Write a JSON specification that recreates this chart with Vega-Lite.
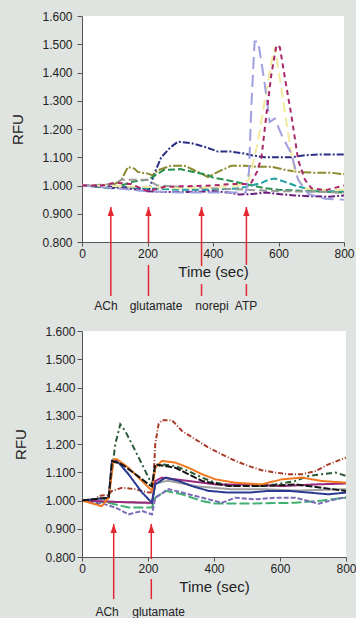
{
  "$schema": "https://vega.github.io/schema/vega-lite/v6.json",
  "background": "#e0e4e0",
  "padding": {"top": 10, "left": 10, "right": 0, "bottom": 0},
  "spacing": 12,
  "config": {
    "view": {"fill": "white", "stroke": null},
    "font": "Liberation Sans",
    "axis": {"grid": false, "labelOverlap": false, "domainColor": "#555555", "tickColor": "#555555", "labelColor": "#222222", "titleColor": "#222222", "labelFont": "Liberation Sans", "titleFont": "Liberation Sans", "labelFontSize": 12, "titleFontSize": 15, "titleFontWeight": "normal"}
  },
  "datasets": {
    "top": [
      {"s":"navy","t":0,"v":1.0},{"s":"navy","t":60,"v":0.995},{"s":"navy","t":90,"v":0.99},{"s":"navy","t":130,"v":0.995},{"s":"navy","t":180,"v":0.99},{"s":"navy","t":205,"v":0.985},{"s":"navy","t":220,"v":1.04},{"s":"navy","t":242,"v":1.10},{"s":"navy","t":270,"v":1.135},{"s":"navy","t":293,"v":1.155},{"s":"navy","t":334,"v":1.15},{"s":"navy","t":374,"v":1.137},{"s":"navy","t":415,"v":1.12},{"s":"navy","t":456,"v":1.12},{"s":"navy","t":497,"v":1.113},{"s":"navy","t":517,"v":1.107},{"s":"navy","t":558,"v":1.10},{"s":"navy","t":599,"v":1.10},{"s":"navy","t":640,"v":1.10},{"s":"navy","t":681,"v":1.107},{"s":"navy","t":721,"v":1.11},{"s":"navy","t":762,"v":1.11},{"s":"navy","t":800,"v":1.11},
      {"s":"olive","t":0,"v":1.0},{"s":"olive","t":80,"v":1.0},{"s":"olive","t":100,"v":1.005},{"s":"olive","t":120,"v":1.02},{"s":"olive","t":140,"v":1.065},{"s":"olive","t":160,"v":1.06},{"s":"olive","t":170,"v":1.048},{"s":"olive","t":201,"v":1.042},{"s":"olive","t":216,"v":1.036},{"s":"olive","t":232,"v":1.054},{"s":"olive","t":272,"v":1.07},{"s":"olive","t":313,"v":1.07},{"s":"olive","t":354,"v":1.048},{"s":"olive","t":385,"v":1.03},{"s":"olive","t":415,"v":1.048},{"s":"olive","t":456,"v":1.07},{"s":"olive","t":497,"v":1.07},{"s":"olive","t":538,"v":1.066},{"s":"olive","t":579,"v":1.066},{"s":"olive","t":619,"v":1.056},{"s":"olive","t":660,"v":1.048},{"s":"olive","t":711,"v":1.045},{"s":"olive","t":762,"v":1.045},{"s":"olive","t":800,"v":1.04},
      {"s":"green","t":0,"v":1.0},{"s":"green","t":60,"v":0.995},{"s":"green","t":80,"v":0.99},{"s":"green","t":120,"v":1.0},{"s":"green","t":160,"v":1.015},{"s":"green","t":200,"v":1.02},{"s":"green","t":215,"v":1.03},{"s":"green","t":250,"v":1.055},{"s":"green","t":300,"v":1.058},{"s":"green","t":350,"v":1.045},{"s":"green","t":380,"v":1.04},{"s":"green","t":400,"v":1.028},{"s":"green","t":440,"v":1.02},{"s":"green","t":480,"v":1.01},{"s":"green","t":520,"v":1.0},{"s":"green","t":560,"v":0.99},{"s":"green","t":600,"v":0.985},{"s":"green","t":700,"v":0.98},{"s":"green","t":800,"v":0.975},
      {"s":"teal","t":0,"v":1.0},{"s":"teal","t":100,"v":0.995},{"s":"teal","t":200,"v":0.99},{"s":"teal","t":300,"v":0.985},{"s":"teal","t":400,"v":0.985},{"s":"teal","t":480,"v":0.99},{"s":"teal","t":517,"v":1.0},{"s":"teal","t":550,"v":1.01},{"s":"teal","t":568,"v":1.02},{"s":"teal","t":589,"v":1.025},{"s":"teal","t":619,"v":1.013},{"s":"teal","t":650,"v":1.0},{"s":"teal","t":681,"v":0.99},{"s":"teal","t":721,"v":0.98},{"s":"teal","t":800,"v":0.98},
      {"s":"grey","t":0,"v":1.0},{"s":"grey","t":100,"v":1.005},{"s":"grey","t":120,"v":1.02},{"s":"grey","t":200,"v":1.02},{"s":"grey","t":230,"v":1.0},{"s":"grey","t":300,"v":0.995},{"s":"grey","t":400,"v":0.99},{"s":"grey","t":500,"v":0.985},{"s":"grey","t":600,"v":0.98},{"s":"grey","t":700,"v":0.978},{"s":"grey","t":800,"v":0.975},
      {"s":"purple","t":0,"v":1.0},{"s":"purple","t":100,"v":0.995},{"s":"purple","t":200,"v":0.98},{"s":"purple","t":250,"v":0.977},{"s":"purple","t":300,"v":0.977},{"s":"purple","t":350,"v":0.978},{"s":"purple","t":400,"v":0.98},{"s":"purple","t":450,"v":0.975},{"s":"purple","t":480,"v":0.968},{"s":"purple","t":520,"v":0.97},{"s":"purple","t":560,"v":0.975},{"s":"purple","t":600,"v":0.97},{"s":"purple","t":650,"v":0.965},{"s":"purple","t":700,"v":0.962},{"s":"purple","t":750,"v":0.96},{"s":"purple","t":800,"v":0.965},
      {"s":"yellow","t":0,"v":1.0},{"s":"yellow","t":100,"v":0.998},{"s":"yellow","t":200,"v":0.995},{"s":"yellow","t":300,"v":0.99},{"s":"yellow","t":400,"v":0.995},{"s":"yellow","t":480,"v":1.0},{"s":"yellow","t":510,"v":1.02},{"s":"yellow","t":538,"v":1.16},{"s":"yellow","t":558,"v":1.3},{"s":"yellow","t":579,"v":1.44},{"s":"yellow","t":589,"v":1.49},{"s":"yellow","t":609,"v":1.34},{"s":"yellow","t":630,"v":1.18},{"s":"yellow","t":650,"v":1.04},{"s":"yellow","t":681,"v":0.99},{"s":"yellow","t":721,"v":0.985},{"s":"yellow","t":800,"v":0.985},
      {"s":"lavender","t":0,"v":1.0},{"s":"lavender","t":100,"v":0.99},{"s":"lavender","t":200,"v":0.98},{"s":"lavender","t":300,"v":0.975},{"s":"lavender","t":400,"v":0.975},{"s":"lavender","t":500,"v":0.975},{"s":"lavender","t":510,"v":1.05},{"s":"lavender","t":517,"v":1.28},{"s":"lavender","t":527,"v":1.51},{"s":"lavender","t":538,"v":1.51},{"s":"lavender","t":558,"v":1.36},{"s":"lavender","t":573,"v":1.225},{"s":"lavender","t":589,"v":1.237},{"s":"lavender","t":609,"v":1.18},{"s":"lavender","t":640,"v":1.11},{"s":"lavender","t":660,"v":1.02},{"s":"lavender","t":691,"v":0.97},{"s":"lavender","t":742,"v":0.953},{"s":"lavender","t":800,"v":0.95},
      {"s":"maroon","t":0,"v":1.0},{"s":"maroon","t":60,"v":1.0},{"s":"maroon","t":100,"v":1.01},{"s":"maroon","t":150,"v":1.005},{"s":"maroon","t":200,"v":0.98},{"s":"maroon","t":250,"v":0.995},{"s":"maroon","t":300,"v":0.997},{"s":"maroon","t":400,"v":1.0},{"s":"maroon","t":450,"v":1.005},{"s":"maroon","t":500,"v":1.005},{"s":"maroon","t":517,"v":1.01},{"s":"maroon","t":535,"v":1.05},{"s":"maroon","t":548,"v":1.1},{"s":"maroon","t":563,"v":1.25},{"s":"maroon","t":579,"v":1.4},{"s":"maroon","t":594,"v":1.497},{"s":"maroon","t":604,"v":1.49},{"s":"maroon","t":619,"v":1.385},{"s":"maroon","t":640,"v":1.243},{"s":"maroon","t":660,"v":1.09},{"s":"maroon","t":681,"v":1.02},{"s":"maroon","t":701,"v":0.99},{"s":"maroon","t":742,"v":0.983},{"s":"maroon","t":800,"v":1.0}
    ],
    "bottom": [
      {"s":"brown","t":0,"v":0.998},{"s":"brown","t":40,"v":1.0},{"s":"brown","t":50,"v":1.016},{"s":"brown","t":80,"v":1.02},{"s":"brown","t":91,"v":1.034},{"s":"brown","t":121,"v":1.045},{"s":"brown","t":162,"v":1.04},{"s":"brown","t":202,"v":1.028},{"s":"brown","t":215,"v":1.03},{"s":"brown","t":222,"v":1.2},{"s":"brown","t":232,"v":1.27},{"s":"brown","t":242,"v":1.284},{"s":"brown","t":273,"v":1.284},{"s":"brown","t":303,"v":1.246},{"s":"brown","t":343,"v":1.217},{"s":"brown","t":384,"v":1.187},{"s":"brown","t":424,"v":1.163},{"s":"brown","t":465,"v":1.14},{"s":"brown","t":505,"v":1.122},{"s":"brown","t":545,"v":1.107},{"s":"brown","t":586,"v":1.099},{"s":"brown","t":626,"v":1.093},{"s":"brown","t":667,"v":1.093},{"s":"brown","t":707,"v":1.104},{"s":"brown","t":747,"v":1.128},{"s":"brown","t":800,"v":1.152},
      {"s":"dkgreen","t":0,"v":1.0},{"s":"dkgreen","t":50,"v":0.99},{"s":"dkgreen","t":81,"v":1.016},{"s":"dkgreen","t":101,"v":1.2},{"s":"dkgreen","t":116,"v":1.27},{"s":"dkgreen","t":131,"v":1.246},{"s":"dkgreen","t":162,"v":1.175},{"s":"dkgreen","t":192,"v":1.104},{"s":"dkgreen","t":212,"v":1.057},{"s":"dkgreen","t":222,"v":1.116},{"s":"dkgreen","t":242,"v":1.128},{"s":"dkgreen","t":283,"v":1.122},{"s":"dkgreen","t":323,"v":1.104},{"s":"dkgreen","t":364,"v":1.081},{"s":"dkgreen","t":404,"v":1.063},{"s":"dkgreen","t":465,"v":1.051},{"s":"dkgreen","t":525,"v":1.051},{"s":"dkgreen","t":586,"v":1.057},{"s":"dkgreen","t":646,"v":1.069},{"s":"dkgreen","t":687,"v":1.087},{"s":"dkgreen","t":727,"v":1.093},{"s":"dkgreen","t":768,"v":1.099},{"s":"dkgreen","t":800,"v":1.087},
      {"s":"grey","t":0,"v":1.0},{"s":"grey","t":100,"v":0.995},{"s":"grey","t":212,"v":0.99},{"s":"grey","t":222,"v":1.06},{"s":"grey","t":260,"v":1.07},{"s":"grey","t":350,"v":1.05},{"s":"grey","t":450,"v":1.04},{"s":"grey","t":550,"v":1.04},{"s":"grey","t":650,"v":1.035},{"s":"grey","t":800,"v":1.04},
      {"s":"green","t":0,"v":1.0},{"s":"green","t":81,"v":0.992},{"s":"green","t":141,"v":0.975},{"s":"green","t":212,"v":0.975},{"s":"green","t":222,"v":1.01},{"s":"green","t":253,"v":1.034},{"s":"green","t":303,"v":1.022},{"s":"green","t":364,"v":0.998},{"s":"green","t":404,"v":0.989},{"s":"green","t":505,"v":0.989},{"s":"green","t":646,"v":0.992},{"s":"green","t":727,"v":1.0},{"s":"green","t":800,"v":1.01},
      {"s":"lavender","t":0,"v":1.0},{"s":"lavender","t":60,"v":0.99},{"s":"lavender","t":101,"v":0.975},{"s":"lavender","t":141,"v":0.951},{"s":"lavender","t":182,"v":0.963},{"s":"lavender","t":212,"v":0.951},{"s":"lavender","t":222,"v":1.01},{"s":"lavender","t":263,"v":1.04},{"s":"lavender","t":323,"v":1.022},{"s":"lavender","t":384,"v":1.004},{"s":"lavender","t":424,"v":0.992},{"s":"lavender","t":465,"v":1.01},{"s":"lavender","t":525,"v":1.004},{"s":"lavender","t":586,"v":1.01},{"s":"lavender","t":646,"v":1.01},{"s":"lavender","t":717,"v":0.989},{"s":"lavender","t":768,"v":1.004},{"s":"lavender","t":800,"v":1.012},
      {"s":"magenta","t":0,"v":1.0},{"s":"magenta","t":100,"v":0.995},{"s":"magenta","t":212,"v":0.992},{"s":"magenta","t":222,"v":1.069},{"s":"magenta","t":242,"v":1.081},{"s":"magenta","t":323,"v":1.069},{"s":"magenta","t":404,"v":1.057},{"s":"magenta","t":505,"v":1.057},{"s":"magenta","t":606,"v":1.051},{"s":"magenta","t":707,"v":1.057},{"s":"magenta","t":800,"v":1.06},
      {"s":"navy","t":0,"v":1.0},{"s":"navy","t":81,"v":1.01},{"s":"navy","t":91,"v":1.14},{"s":"navy","t":106,"v":1.14},{"s":"navy","t":141,"v":1.093},{"s":"navy","t":182,"v":1.028},{"s":"navy","t":212,"v":0.992},{"s":"navy","t":222,"v":1.057},{"s":"navy","t":253,"v":1.081},{"s":"navy","t":293,"v":1.069},{"s":"navy","t":333,"v":1.051},{"s":"navy","t":384,"v":1.034},{"s":"navy","t":444,"v":1.028},{"s":"navy","t":505,"v":1.028},{"s":"navy","t":566,"v":1.034},{"s":"navy","t":626,"v":1.034},{"s":"navy","t":687,"v":1.028},{"s":"navy","t":747,"v":1.022},{"s":"navy","t":800,"v":1.028},
      {"s":"orange","t":0,"v":1.0},{"s":"orange","t":60,"v":0.98},{"s":"orange","t":81,"v":1.01},{"s":"orange","t":96,"v":1.146},{"s":"orange","t":106,"v":1.146},{"s":"orange","t":141,"v":1.116},{"s":"orange","t":182,"v":1.069},{"s":"orange","t":212,"v":1.034},{"s":"orange","t":222,"v":1.116},{"s":"orange","t":242,"v":1.14},{"s":"orange","t":283,"v":1.134},{"s":"orange","t":323,"v":1.116},{"s":"orange","t":364,"v":1.093},{"s":"orange","t":404,"v":1.075},{"s":"orange","t":465,"v":1.063},{"s":"orange","t":545,"v":1.057},{"s":"orange","t":606,"v":1.075},{"s":"orange","t":667,"v":1.081},{"s":"orange","t":727,"v":1.069},{"s":"orange","t":800,"v":1.063},
      {"s":"black","t":0,"v":1.0},{"s":"black","t":81,"v":1.01},{"s":"black","t":91,"v":1.14},{"s":"black","t":121,"v":1.128},{"s":"black","t":162,"v":1.093},{"s":"black","t":202,"v":1.057},{"s":"black","t":212,"v":1.05},{"s":"black","t":222,"v":1.128},{"s":"black","t":283,"v":1.116},{"s":"black","t":364,"v":1.069},{"s":"black","t":444,"v":1.051},{"s":"black","t":545,"v":1.051},{"s":"black","t":646,"v":1.057},{"s":"black","t":727,"v":1.045},{"s":"black","t":800,"v":1.034}
    ],
    "arrowsTop": [
      {"t":88,"v":0.924,"v2":0.609},
      {"t":203,"v":0.924,"v2":0.796},{"t":203,"v":0.719,"v2":0.609},
      {"t":365,"v":0.924,"v2":0.715},{"t":365,"v":0.651,"v2":0.609},
      {"t":502,"v":0.924,"v2":0.719},{"t":502,"v":0.651,"v2":0.609}
    ],
    "tipsTop": [{"t":88,"v":0.924},{"t":203,"v":0.924},{"t":365,"v":0.924},{"t":502,"v":0.924}],
    "labelsTop": [{"label":"ACh","t":73,"v":0.573},{"label":"glutamate","t":226,"v":0.573},{"label":"norepi","t":397,"v":0.573},{"label":"ATP","t":501,"v":0.573}],
    "arrowsBottom": [
      {"t":96,"v":0.917,"v2":0.651},
      {"t":210,"v":0.917,"v2":0.793},{"t":210,"v":0.722,"v2":0.651}
    ],
    "tipsBottom": [{"t":96,"v":0.917},{"t":210,"v":0.917}],
    "labelsBottom": [{"label":"ACh","t":76,"v":0.605},{"label":"glutamate","t":232,"v":0.605}]
  },
  "vconcat": [
    {
      "width": 262, "height": 226,
      "encoding": {
        "x": {"field": "t", "type": "quantitative", "scale": {"domain": [0, 800], "nice": false}, "axis": {"values": [0, 200, 400, 600, 800], "title": "Time (sec)", "tickSize": 4, "labelPadding": 2, "titlePadding": 5, "labelFlush": false, "labelOverlap": false}},
        "y": {"field": "v", "type": "quantitative", "scale": {"domain": [0.8, 1.6], "nice": false, "zero": false}, "axis": {"values": [0.8, 0.9, 1.0, 1.1, 1.2, 1.3, 1.4, 1.5, 1.6], "format": ".3f", "title": "RFU", "tickSize": 5, "labelPadding": 5, "titlePadding": 16, "labelOverlap": false, "labelFlush": false}}
      },
      "layer": [
        {
          "data": {"name": "top"},
          "mark": {"type": "line", "strokeWidth": 2},
          "encoding": {
            "color": {"field": "s", "type": "nominal", "legend": null, "scale": {"domain": ["navy","olive","green","teal","grey","purple","yellow","lavender","maroon"], "range": ["#2b2f85","#8c8a30","#2a9050","#20a0a0","#9a9a9a","#6a2080","#f2eaa0","#a0a0e0","#a8286a"]}},
            "strokeDash": {"field": "s", "type": "nominal", "legend": null, "scale": {"domain": ["navy","olive","green","teal","grey","purple","yellow","lavender","maroon"], "range": [[7,2,2,2],[9,2,2,2],[7,3],[7,3],[8,4],[7,2,2,2],[10,5],[12,6],[5,4]]}}
          }
        },
        {
          "data": {"name": "arrowsTop"},
          "mark": {"type": "rule", "color": "#e3262f", "strokeWidth": 1.5},
          "encoding": {"y2": {"field": "v2"}}
        },
        {
          "data": {"name": "tipsTop"},
          "mark": {"type": "point", "shape": "M0,-1L0.7,1L-0.7,1Z", "filled": true, "color": "#e3262f", "opacity": 1, "size": 81, "yOffset": 4.5},
          "encoding": {}
        },
        {
          "data": {"name": "labelsTop"},
          "mark": {"type": "text", "fontSize": 12, "color": "#222222", "baseline": "middle"},
          "encoding": {"text": {"field": "label"}}
        }
      ]
    },
    {
      "width": 264, "height": 226,
      "encoding": {
        "x": {"field": "t", "type": "quantitative", "scale": {"domain": [0, 800], "nice": false}, "axis": {"values": [0, 200, 400, 600, 800], "title": "Time (sec)", "tickSize": 4, "labelPadding": 2, "titlePadding": 5, "labelFlush": false, "labelOverlap": false}},
        "y": {"field": "v", "type": "quantitative", "scale": {"domain": [0.8, 1.6], "nice": false, "zero": false}, "axis": {"values": [0.8, 0.9, 1.0, 1.1, 1.2, 1.3, 1.4, 1.5, 1.6], "format": ".3f", "title": "RFU", "tickSize": 5, "labelPadding": 2, "titlePadding": 16, "labelOverlap": false, "labelFlush": false}}
      },
      "layer": [
        {
          "data": {"name": "bottom"},
          "mark": {"type": "line", "strokeWidth": 2},
          "encoding": {
            "color": {"field": "s", "type": "nominal", "legend": null, "scale": {"domain": ["brown","dkgreen","grey","green","lavender","magenta","navy","orange","black"], "range": ["#a83a28","#2a5a35","#a0a0a0","#40b070","#7a6ab8","#9a2a80","#2a3a90","#f07a22","#151515"]}},
            "strokeDash": {"field": "s", "type": "nominal", "legend": null, "scale": {"domain": ["brown","dkgreen","grey","green","lavender","magenta","navy","orange","black"], "range": [[5,2,1,2],[6,3,2,3],[1,0],[10,3],[5,2],[1,0],[1,0],[1,0],[7,2]]}}
          }
        },
        {
          "data": {"name": "arrowsBottom"},
          "mark": {"type": "rule", "color": "#e3262f", "strokeWidth": 1.5},
          "encoding": {"y2": {"field": "v2"}}
        },
        {
          "data": {"name": "tipsBottom"},
          "mark": {"type": "point", "shape": "M0,-1L0.7,1L-0.7,1Z", "filled": true, "color": "#e3262f", "opacity": 1, "size": 81, "yOffset": 4.5},
          "encoding": {}
        },
        {
          "data": {"name": "labelsBottom"},
          "mark": {"type": "text", "fontSize": 12, "color": "#222222", "baseline": "middle"},
          "encoding": {"text": {"field": "label"}}
        }
      ]
    }
  ],
  "resolve": {"scale": {"color": "independent", "strokeDash": "independent"}}
}
